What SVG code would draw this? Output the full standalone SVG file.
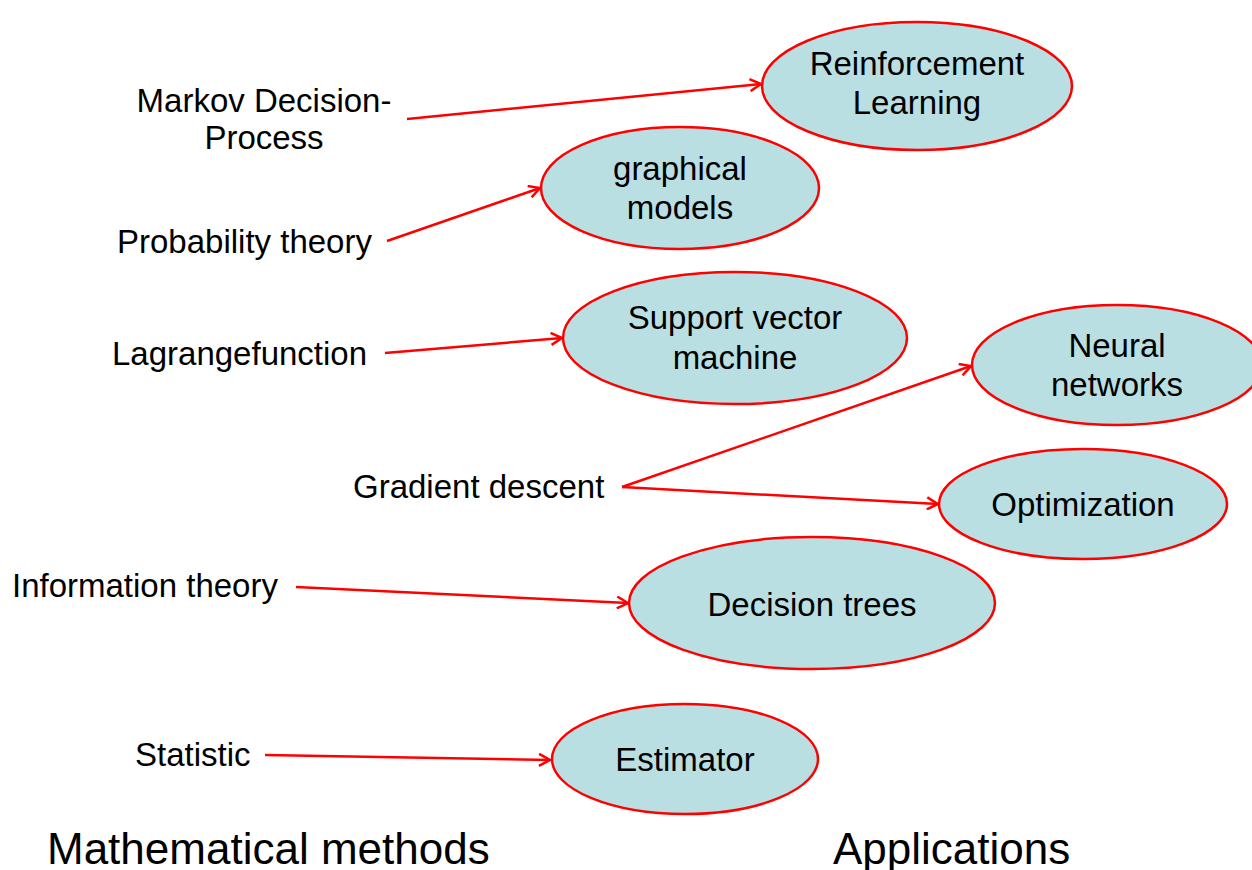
<svg xmlns="http://www.w3.org/2000/svg" width="1252" height="870" viewBox="0 0 1252 870">
  <style>
    .node ellipse { fill: #B9DFE3; stroke: #FF0000; stroke-width: 2.5; }
    text { font-family: "Liberation Sans", Arial, sans-serif; fill: #000000; }
    .lbl { font-size: 33px; }
    .node text { font-size: 33px; text-anchor: middle; }
    .head { font-size: 44px; }
    .edge { stroke: #FF0000; stroke-width: 2.5; fill: none; marker-end: url(#arrow); }
  </style>
  <defs>
    <marker id="arrow" markerWidth="16" markerHeight="14" refX="12" refY="7" orient="auto" markerUnits="userSpaceOnUse">
      <path d="M1,1 L12,7 L1,13" fill="none" stroke="#FF0000" stroke-width="2.5" stroke-linejoin="miter"/>
    </marker>
  </defs>
  <rect width="1252" height="870" fill="#FFFFFF"/>

  <!-- method labels -->
  <g id="methods">
    <text class="lbl" x="264" y="112" text-anchor="middle">Markov Decision-</text>
    <text class="lbl" x="264" y="149" text-anchor="middle">Process</text>
    <text class="lbl" x="117" y="253">Probability theory</text>
    <text class="lbl" x="112" y="365">Lagrangefunction</text>
    <text class="lbl" x="353" y="498">Gradient descent</text>
    <text class="lbl" x="12" y="597">Information theory</text>
    <text class="lbl" x="135" y="766">Statistic</text>
  </g>

  <!-- application nodes -->
  <g id="reinforcement-learning" class="node">
    <ellipse cx="917" cy="86" rx="155" ry="64"/>
    <text x="917" y="75">Reinforcement</text>
    <text x="917" y="114">Learning</text>
  </g>
  <g id="graphical-models" class="node">
    <ellipse cx="680" cy="188" rx="139" ry="61"/>
    <text x="680" y="180">graphical</text>
    <text x="680" y="219">models</text>
  </g>
  <g id="support-vector-machine" class="node">
    <ellipse cx="735" cy="338" rx="172" ry="66"/>
    <text x="735" y="329">Support vector</text>
    <text x="735" y="369">machine</text>
  </g>
  <g id="neural-networks" class="node">
    <ellipse cx="1117" cy="365" rx="145" ry="60"/>
    <text x="1117" y="357">Neural</text>
    <text x="1117" y="396">networks</text>
  </g>
  <g id="optimization" class="node">
    <ellipse cx="1083" cy="504" rx="144" ry="55"/>
    <text x="1083" y="516">Optimization</text>
  </g>
  <g id="decision-trees" class="node">
    <ellipse cx="812" cy="603" rx="183" ry="66"/>
    <text x="812" y="616">Decision trees</text>
  </g>
  <g id="estimator" class="node">
    <ellipse cx="685" cy="759" rx="133" ry="55"/>
    <text x="685" y="771">Estimator</text>
  </g>

  <!-- connectors -->
  <g id="connectors">
    <line class="edge" x1="407" y1="119" x2="761" y2="84"/>
    <line class="edge" x1="387" y1="241" x2="540" y2="188"/>
    <line class="edge" x1="385" y1="353" x2="562" y2="338"/>
    <line class="edge" x1="622" y1="487" x2="971" y2="366"/>
    <line class="edge" x1="622" y1="487" x2="938" y2="504"/>
    <line class="edge" x1="296" y1="587" x2="628" y2="603"/>
    <line class="edge" x1="265" y1="755" x2="550" y2="760"/>
  </g>

  <!-- column headings -->
  <text class="head" x="47" y="864">Mathematical methods</text>
  <text class="head" x="833" y="864">Applications</text>
</svg>
